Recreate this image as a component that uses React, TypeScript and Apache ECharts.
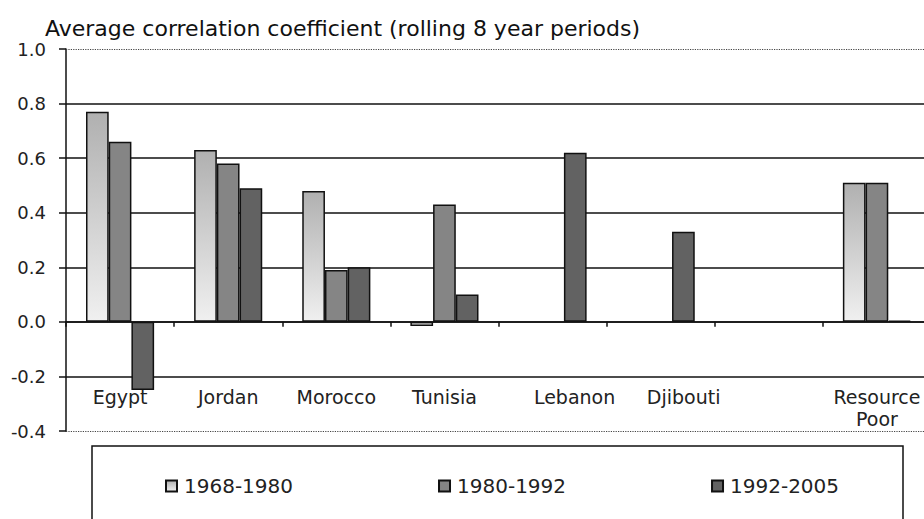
import React, { useEffect, useRef } from "react";
import * as echarts from "echarts";

const categories = ["Egypt", "Jordan", "Morocco", "Tunisia", "Lebanon", "Djibouti", "", "Resource\nPoor"];
const seriesNames = ["1968-1980", "1980-1992", "1992-2005"];
const values6880 = [0.77, 0.63, 0.48, -0.015, null, null, null, 0.51];
const values8092 = [0.66, 0.58, 0.19, 0.43, null, null, null, 0.51];
const values9205 = [-0.25, 0.49, 0.2, 0.1, 0.62, 0.33, null, 0.005];
const yMin = -0.4;
const yMax = 1.0;
const yStep = 0.2;
const boundaryLines = [1.0, -0.4];
const titleText = "Average correlation coefficient (rolling 8 year periods)";

const FONT = "DejaVu Sans";

export default function App() {
  const ref = useRef<HTMLDivElement>(null);
  useEffect(() => {
    if (!ref.current) return;
    const chart = echarts.init(ref.current, null, { renderer: "svg" });
    const shifted: Record<string, number> = { Lebanon: 44, Djibouti: 46 };
    const catData = categories.map((c) =>
      shifted[c] ? { value: c, textStyle: { padding: [0, 0, 0, shifted[c]] } } : c
    );
    const border = { borderColor: "#111", borderWidth: 1.5 };
    const option: any = {
      animation: false,
      backgroundColor: "#fff",
      title: {
        text: titleText,
        left: 40,
        top: 12,
        textStyle: { fontFamily: FONT, fontSize: 22, fontWeight: "normal", color: "#111" },
      },
      grid: { left: 66, right: -7, top: 49, bottom: 88, containLabel: false, outerBoundsMode: "none" },
      legend: {
        data: seriesNames,
        left: 160,
        top: 471,
        itemWidth: 11,
        itemHeight: 11,
        itemGap: 145,
        icon: "rect",
        textStyle: { fontFamily: FONT, fontSize: 20, color: "#222", padding: [0, 0, 0, 2] },
      },
      xAxis: {
        type: "category",
        data: catData,
        axisLine: { onZero: true, lineStyle: { color: "#111", width: 1.5 } },
        axisTick: { show: true, length: 5, lineStyle: { color: "#111", width: 1.5 } },
        axisLabel: {
          interval: 0,
          margin: -45,
          fontFamily: FONT,
          fontSize: 19,
          lineHeight: 22,
          color: "#222",
          verticalAlign: "top",
        },
        splitLine: { show: false },
      },
      yAxis: {
        type: "value",
        min: yMin,
        max: yMax,
        interval: yStep,
        axisLine: { show: true, lineStyle: { color: "#111", width: 1.5 } },
        axisTick: { show: true, length: 7, lineStyle: { color: "#111", width: 1.5 } },
        axisLabel: {
          margin: 20,
          fontFamily: FONT,
          fontSize: 18,
          color: "#222",
          formatter: (v: number) => v.toFixed(1),
        },
        splitLine: {
          show: true,
          lineStyle: {
            color: ["transparent", "#111", "#111", "#111", "#111", "#111", "#111", "transparent"],
            width: 1.5,
          },
        },
      },
      graphic: [
        {
          type: "rect",
          shape: { x: 92, y: 446, width: 811, height: 100 },
          style: { fill: "none", stroke: "#111", lineWidth: 1.5 },
          silent: true,
        },
      ],
      series: [
        {
          name: seriesNames[0],
          type: "bar",
          data: values6880,
          barGap: "0%",
          barCategoryGap: "37%",
          itemStyle: {
            ...border,
            color: new echarts.graphic.LinearGradient(0, 0, 0, 1, [
              { offset: 0, color: "#b0b0b0" },
              { offset: 1, color: "#f0f0f0" },
            ]),
          },
        },
        {
          name: seriesNames[1],
          type: "bar",
          data: values8092,
          barGap: "0%",
          barCategoryGap: "37%",
          itemStyle: { ...border, color: "#858585" },
        },
        {
          name: seriesNames[2],
          type: "bar",
          data: values9205,
          barGap: "0%",
          barCategoryGap: "37%",
          itemStyle: { ...border, color: "#626262" },
          markLine: {
            silent: true,
            symbol: ["none", "none"],
            label: { show: false },
            lineStyle: { type: "dotted", color: "#444", width: 1.2 },
            data: boundaryLines.map((v) => ({ yAxis: v })),
          },
        },
      ],
    };
    chart.setOption(option);
    return () => chart.dispose();
  }, []);
  return (
    <div
      ref={ref}
      style={{ position: "fixed", left: 0, top: 0, width: 924, height: 519, overflow: "hidden" }}
    />
  );
}
